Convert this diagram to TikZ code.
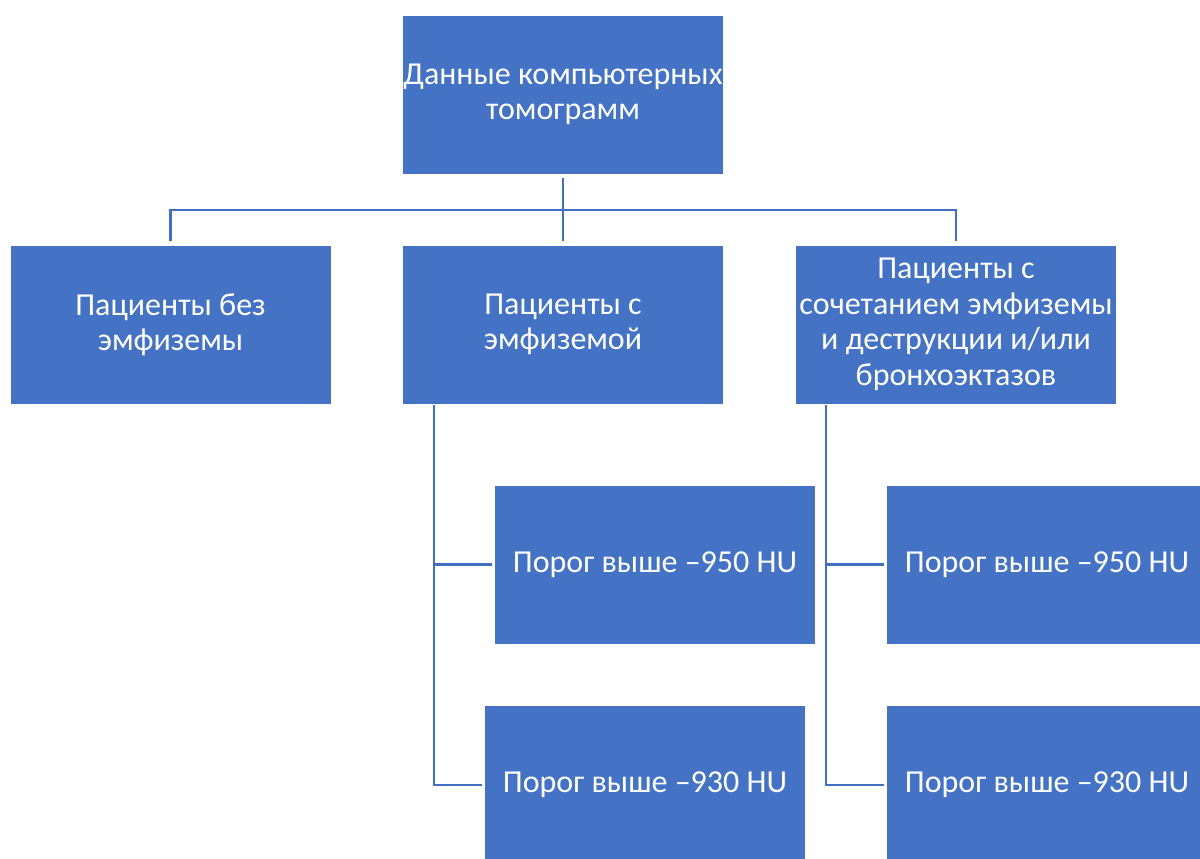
\documentclass[tikz,border=0pt]{standalone}
\usepackage{fontspec}
\setmainfont{Carlito}
\definecolor{boxblue}{HTML}{4472C4}
\definecolor{lineblue}{HTML}{4270C0}
\begin{document}
\begin{tikzpicture}[x=1pt,y=-1pt,
  box/.style={draw=white, line width=0.8pt, fill=boxblue, text=white, align=center,
    minimum width=321pt, minimum height=159pt, inner sep=0pt,
    font=\fontsize{32}{35.5}\selectfont},
  conn/.style={draw=lineblue, line width=2.6pt}]
\useasboundingbox (0,0) rectangle (1200,859);
\clip (0,0) rectangle (1200,859);
\node[box] (top) at (563,94.5) {Данные компьютерных\\томограмм};
\node[box] (left) at (170.5,324.5) {Пациенты без\\эмфиземы};
\node[box] (mid) at (563,324.5) {Пациенты с\\эмфиземой};
\node[box] (right) at (956,324.5) {Пациенты с\\сочетанием эмфиземы\\и деструкции и/или\\бронхоэктазов};
\node[box] (m950) at (655,564.5) {Порог выше –950 HU};
\node[box] (m930) at (645,785) {Порог выше –930 HU};
\node[box] (r950) at (1047,564.5) {Порог выше –950 HU};
\node[box] (r930) at (1047,785) {Порог выше –930 HU};
\coordinate (bus) at (563,210);
\coordinate (mtrunk) at (434,405);
\coordinate (rtrunk) at (826,405);
\draw[conn] ([yshift=-4pt]top.south) -- ([yshift=4pt]mid.north);
\draw[conn] ([yshift=4pt]left.north) -- (left.north |- bus) -- (right.north |- bus) -- ([yshift=4pt]right.north);
\draw[conn] (mtrunk) |- ([xshift=-2pt]m930.west);
\draw[conn] (mtrunk |- m950.west) -- ([xshift=-2pt]m950.west);
\draw[conn] (rtrunk) |- ([xshift=-2pt]r930.west);
\draw[conn] (rtrunk |- r950.west) -- ([xshift=-2pt]r950.west);
\end{tikzpicture}
\end{document}
